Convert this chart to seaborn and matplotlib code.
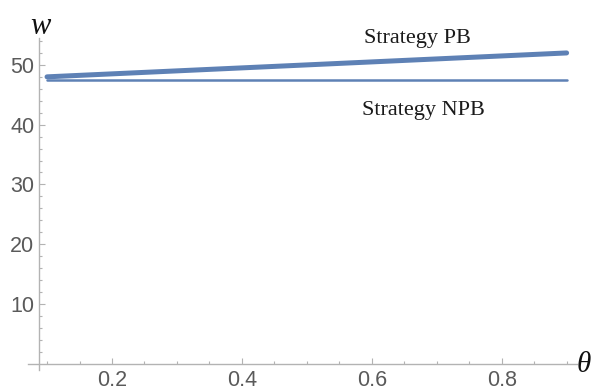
import numpy as np
import pandas as pd
import matplotlib
matplotlib.use("Agg")
import matplotlib.pyplot as plt
from matplotlib.ticker import FixedLocator
import seaborn as sns

# Wage under each strategy as a function of theta
theta = [0.1, 0.3, 0.5, 0.7, 0.9]
w_pb = [48.0, 49.0, 50.0, 51.0, 52.0]
w_npb = [47.5, 47.5, 47.5, 47.5, 47.5]

x_ticks = [0.2, 0.4, 0.6, 0.8]
x_tick_labels = ["0.2", "0.4", "0.6", "0.8"]
y_ticks = [10, 20, 30, 40, 50]
y_tick_labels = ["10", "20", "30", "40", "50"]

df = pd.DataFrame({
    "theta": theta * 2,
    "w": w_pb + w_npb,
    "strategy": ["PB"] * len(theta) + ["NPB"] * len(theta),
})

sns.set_style("white")
plt.rcParams["font.family"] = ["Liberation Sans", "DejaVu Sans"]

line_color = "#5E81B5"
axis_color = "#b3b3b3"
label_color = "#5a5a5a"

fig = plt.figure(figsize=(5.93, 3.90), dpi=100)
ax = fig.add_axes([28 / 593, 1 - 370 / 390, (577 - 28) / 593, (370 - 38) / 390])

sns.lineplot(data=df, x="theta", y="w", hue="strategy", size="strategy",
             sizes={"PB": 3.6, "NPB": 1.8},
             palette={"PB": line_color, "NPB": line_color},
             legend=False, ax=ax, solid_capstyle="round")

ax.set_xlim(0.0707, 0.916)
ax.set_ylim(-1.05, 54.5)

for side in ("top", "right"):
    ax.spines[side].set_visible(False)
ax.spines["left"].set_position(("data", 0.0877))
ax.spines["bottom"].set_position(("data", 0))
for side in ("left", "bottom"):
    ax.spines[side].set_color(axis_color)
    ax.spines[side].set_linewidth(1.0)

ax.xaxis.set_major_locator(FixedLocator(x_ticks))
ax.set_xticklabels(x_tick_labels)
ax.xaxis.set_minor_locator(FixedLocator([0.1, 0.15, 0.25, 0.3, 0.35, 0.45, 0.5, 0.55,
                                         0.65, 0.7, 0.75, 0.85, 0.9]))
ax.yaxis.set_major_locator(FixedLocator(y_ticks))
ax.set_yticklabels(y_tick_labels)
ax.yaxis.set_minor_locator(FixedLocator([v for v in range(2, 55, 2) if v % 10 != 0]))

ax.tick_params(axis="both", which="major", direction="in", length=4, width=0.8,
               color=axis_color, labelcolor=label_color, labelsize=15.5)
ax.tick_params(axis="both", which="minor", direction="in", length=2.5, width=0.8,
               color=axis_color)
ax.tick_params(axis="x", which="major", pad=4.5)
ax.tick_params(axis="y", which="major", pad=3.5)
ax.tick_params(left=True, bottom=True, which="both")
ax.set_xlabel("")
ax.set_ylabel("")
ax.set_facecolor("white")

serif = ["Liberation Serif", "DejaVu Serif"]
ax.text(0.671, 53.7, "Strategy PB", family=serif, fontsize=16, ha="center",
        va="baseline", color="#1a1a1a")
ax.text(0.680, 41.6, "Strategy NPB", family=serif, fontsize=16, ha="center",
        va="baseline", color="#1a1a1a")

fig.text(40 / 593, 1 - 27 / 390, "w", family=serif, style="italic", fontsize=22,
         ha="center", va="center", color="#111111")
fig.text(577 / 593, 1 - 365 / 390, "θ", family=serif, style="italic", fontsize=21,
         ha="left", va="center", color="#111111")

fig.savefig("out.png", dpi=100)
